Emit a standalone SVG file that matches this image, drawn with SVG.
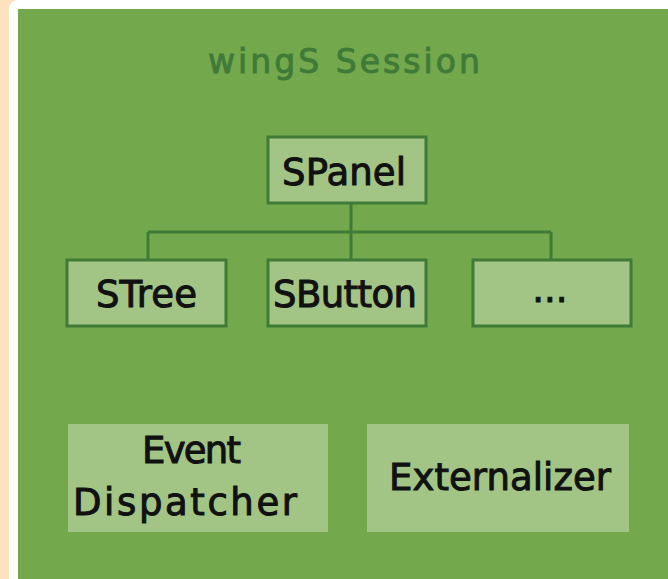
<svg xmlns="http://www.w3.org/2000/svg" width="668" height="579" viewBox="0 0 668 579">
  <style>
    .node { fill: #a2c586; stroke: #3f7a36; stroke-width: 3; }
    .plain { fill: #a2c586; }
    .label { font-family: "DejaVu Sans", "Liberation Sans", sans-serif; font-size: 37px; fill: #111; stroke: #111; stroke-width: 1; }
    .title { font-family: "DejaVu Sans", "Liberation Sans", sans-serif; font-size: 33px; fill: #3f7a38; stroke: #3f7a38; stroke-width: 0.9; }
    .wire { fill: none; stroke: #3f7a36; stroke-width: 3; }
  </style>

  <!-- page frame -->
  <rect x="0" y="0" width="668" height="579" fill="#fde2bf"/>
  <rect x="9" y="0" width="680" height="600" rx="9" fill="#ffffff"/>
  <rect x="18" y="9" width="650" height="570" fill="#73a84c"/>

  <text class="title" x="344" y="73" text-anchor="middle" textLength="272" lengthAdjust="spacing">wingS Session</text>

  <g id="connectors">
    <path class="wire" d="M351 203 V232 M148 232 H551 M148 232 V260 M351 232 V260 M551 232 V260"/>
  </g>

  <g id="spanel">
    <rect class="node" x="268" y="137" width="158" height="66"/>
    <text class="label" x="282" y="185" textLength="124" lengthAdjust="spacing">SPanel</text>
  </g>

  <g id="stree">
    <rect class="node" x="67" y="260" width="159" height="66"/>
    <text class="label" x="96" y="307" textLength="101" lengthAdjust="spacing">STree</text>
  </g>

  <g id="sbutton">
    <rect class="node" x="268" y="260" width="158" height="66"/>
    <text class="label" x="273" y="307" textLength="144" lengthAdjust="spacing">SButton</text>
  </g>

  <g id="more">
    <rect class="node" x="473" y="260" width="158" height="66"/>
    <text class="label" x="550" y="302" text-anchor="middle" font-size="26">...</text>
  </g>

  <g id="event-dispatcher">
    <rect class="plain" x="68" y="424" width="260" height="108"/>
    <text class="label" x="142" y="463" textLength="99" lengthAdjust="spacing">Event</text>
    <text class="label" x="73" y="515" textLength="224" lengthAdjust="spacing">Dispatcher</text>
  </g>

  <g id="externalizer">
    <rect class="plain" x="367" y="424" width="262" height="108"/>
    <text class="label" x="389" y="490" textLength="222" lengthAdjust="spacing">Externalizer</text>
  </g>
</svg>
